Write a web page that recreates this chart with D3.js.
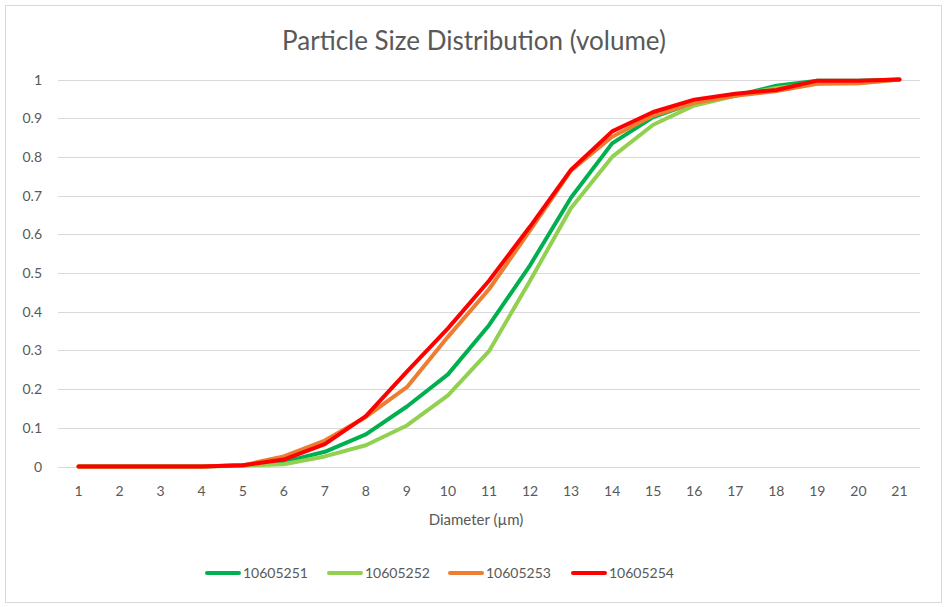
<!DOCTYPE html>
<html>
<head>
<meta charset="utf-8">
<script src="https://cdn.jsdelivr.net/npm/d3@7"></script>
<style>
  body { margin: 0; background: #fff; }
  svg text { font-family: Lato, "Open Sans", sans-serif; fill: #595959; }
</style>
</head>
<body>
<div id="chart"></div>
<script>
width = 947
height = 607

// diameters (um) on the category axis
let diameters = d3.range(1, 22)
let yTicks = [0, 0.1, 0.2, 0.3, 0.4, 0.5, 0.6, 0.7, 0.8, 0.9, 1]

let names = ["10605251", "10605252", "10605253", "10605254"]
let colors = ["#00b050", "#92d050", "#ed7d31", "#ff0000"]

let s1 = [0, 0, 0, 0, 0.003, 0.012, 0.038, 0.083, 0.155, 0.238, 0.365, 0.52, 0.695, 0.835, 0.903, 0.94, 0.958, 0.984, 0.997, 0.997, 1]
let s2 = [0, 0, 0, 0, 0.002, 0.006, 0.026, 0.055, 0.106, 0.184, 0.298, 0.48, 0.668, 0.8, 0.883, 0.933, 0.958, 0.978, 0.99, 0.99, 1]
let s3 = [0, 0, 0, 0, 0.003, 0.026, 0.067, 0.128, 0.205, 0.335, 0.458, 0.61, 0.765, 0.852, 0.907, 0.94, 0.958, 0.97, 0.989, 0.99, 1]
let s4 = [0, 0, 0, 0, 0.003, 0.018, 0.058, 0.13, 0.245, 0.357, 0.48, 0.62, 0.767, 0.866, 0.916, 0.948, 0.963, 0.973, 0.997, 0.997, 1]
let series = [s1, s2, s3, s4]

let svg = d3.select("#chart")
  .append("svg")
  .attr("width", width)
  .attr("height", height)

// chart frame
svg.append("rect")
  .attr("x", 5.5).attr("y", 5.5)
  .attr("width", 936).attr("height", 597)
  .attr("fill", "#fff")
  .attr("stroke", "#d9d9d9")

let plotLeft = 58, plotRight = 920
let x = d3.scalePoint().domain(diameters).range([plotLeft, plotRight]).padding(0.5)
let y = d3.scaleLinear().domain([0, 1]).range([466.5, 79.5])

// gridlines
svg.append("g")
  .selectAll("line")
  .data(yTicks)
  .enter().append("line")
  .attr("x1", plotLeft).attr("x2", plotRight)
  .attr("y1", d => Math.round(y(d)) + 0.5).attr("y2", d => Math.round(y(d)) + 0.5)
  .attr("stroke", "#d9d9d9")
  .attr("stroke-width", 1)

// y labels
svg.append("g")
  .selectAll("text")
  .data(yTicks)
  .enter().append("text")
  .attr("x", 42)
  .attr("y", d => y(d) + 5)
  .attr("text-anchor", "end")
  .style("font-size", "14px")
  .text(d => d)

// x labels
svg.append("g")
  .selectAll("text")
  .data(diameters)
  .enter().append("text")
  .attr("x", d => x(d))
  .attr("y", 496)
  .attr("text-anchor", "middle")
  .style("font-size", "14px")
  .text(d => d)

// lines
let line = d3.line()
  .x((d, i) => x(diameters[i]))
  .y(d => y(d))

svg.append("g")
  .selectAll("path")
  .data(series)
  .enter().append("path")
  .attr("d", line)
  .attr("fill", "none")
  .attr("stroke", (d, i) => colors[i])
  .attr("stroke-width", 4)
  .attr("stroke-linejoin", "round")
  .attr("stroke-linecap", "round")

// title
svg.append("text")
  .attr("x", 474)
  .attr("y", 50)
  .attr("text-anchor", "middle")
  .style("font-size", "26px")
  .text("Particle Size Distribution (volume)")

// axis title
svg.append("text")
  .attr("x", 476)
  .attr("y", 525)
  .attr("text-anchor", "middle")
  .style("font-size", "15px")
  .text("Diameter (µm)")

// legend
let legendX = [205, 327, 448, 571]
let legend = svg.append("g")
  .selectAll("g")
  .data(names)
  .enter().append("g")
  .attr("transform", (d, i) => `translate(${legendX[i]}, 573)`)

legend.append("line")
  .attr("x1", 2).attr("x2", 34)
  .attr("y1", 0).attr("y2", 0)
  .attr("stroke", (d, i) => colors[i])
  .attr("stroke-width", 4)
  .attr("stroke-linecap", "round")

legend.append("text")
  .attr("x", 38)
  .attr("y", 5)
  .style("font-size", "14px")
  .text(d => d)
</script>
</body>
</html>
